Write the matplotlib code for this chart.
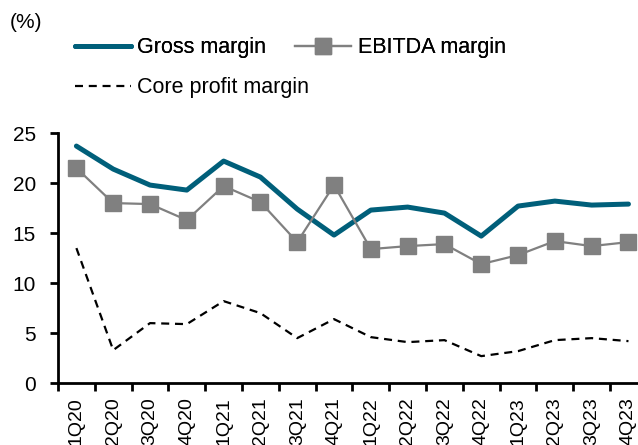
import matplotlib
matplotlib.use("Agg")
import matplotlib.pyplot as plt
import numpy as np

plt.rcParams.update({
    "font.family": ["Liberation Sans", "DejaVu Sans"],
    "font.size": 14,
})

quarters = ["1Q20", "2Q20", "3Q20", "4Q20", "1Q21", "2Q21", "3Q21", "4Q21",
            "1Q22", "2Q22", "3Q22", "4Q22", "1Q23", "2Q23", "3Q23", "4Q23"]
gross = [23.7, 21.4, 19.8, 19.3, 22.2, 20.6, 17.4, 14.8,
         17.3, 17.6, 17.0, 14.7, 17.7, 18.2, 17.8, 17.9]
ebitda = [21.5, 18.0, 17.9, 16.3, 19.7, 18.1, 14.1, 19.8,
          13.4, 13.7, 13.9, 11.9, 12.8, 14.2, 13.7, 14.1]
core = [13.5, 3.3, 6.0, 5.9, 8.2, 7.0, 4.5, 6.4,
        4.6, 4.1, 4.3, 2.7, 3.2, 4.3, 4.5, 4.2]

TEAL = "#005F7A"
GRAY = "#808080"

fig = plt.figure(figsize=(6.38, 4.45), dpi=100)
ax = fig.add_axes([0.0909, 0.139, 0.923, 0.562])

x = np.arange(len(quarters))
l_gross, = ax.plot(x, gross, color=TEAL, lw=3.6, label="Gross margin",
                   solid_capstyle="round")
l_ebitda, = ax.plot(x, ebitda, color=GRAY, lw=1.6, marker="s", markersize=11,
                    markeredgecolor=GRAY, label="EBITDA margin")
l_core, = ax.plot(x, core, color="black", lw=1.6, dashes=(3.6, 2.6),
                  label="Core profit margin")

ax.set_xlim(-0.5, len(quarters) - 0.5)
ax.set_ylim(0, 25)
ax.set_yticks([0, 5, 10, 15, 20, 25])
ax.set_xticks(x)
ax.set_xticklabels(quarters, rotation=90, va="top", fontsize=14)
ax.set_xticks(np.arange(-0.5, len(quarters), 1), minor=True)
ax.tick_params(axis="x", which="major", length=0, pad=10)
ax.tick_params(axis="x", which="minor", length=6, width=2, direction="out")
ax.tick_params(axis="y", length=6, width=2, direction="out", pad=10, labelsize=15)

for s in ["top", "right"]:
    ax.spines[s].set_visible(False)
for s in ["left", "bottom"]:
    ax.spines[s].set_linewidth(2)

fig.text(0.016, 0.95, "(%)", ha="left", va="center", fontsize=15)

leg_kw = dict(frameon=False, handlelength=2.6, handletextpad=0.3,
              borderpad=0, borderaxespad=0, fontsize=15.5, loc="center left")
leg1 = fig.legend([l_gross, l_ebitda], ["Gross margin", "EBITDA margin"],
                  ncol=2, columnspacing=1.35, bbox_to_anchor=(75 / 638, 1 - 48 / 445),
                  **leg_kw)
fig.legend([l_core], ["Core profit margin"],
           bbox_to_anchor=(75 / 638, 1 - 88 / 445), **leg_kw)
fig.add_artist(leg1)

fig.savefig("out.png", dpi=100)
